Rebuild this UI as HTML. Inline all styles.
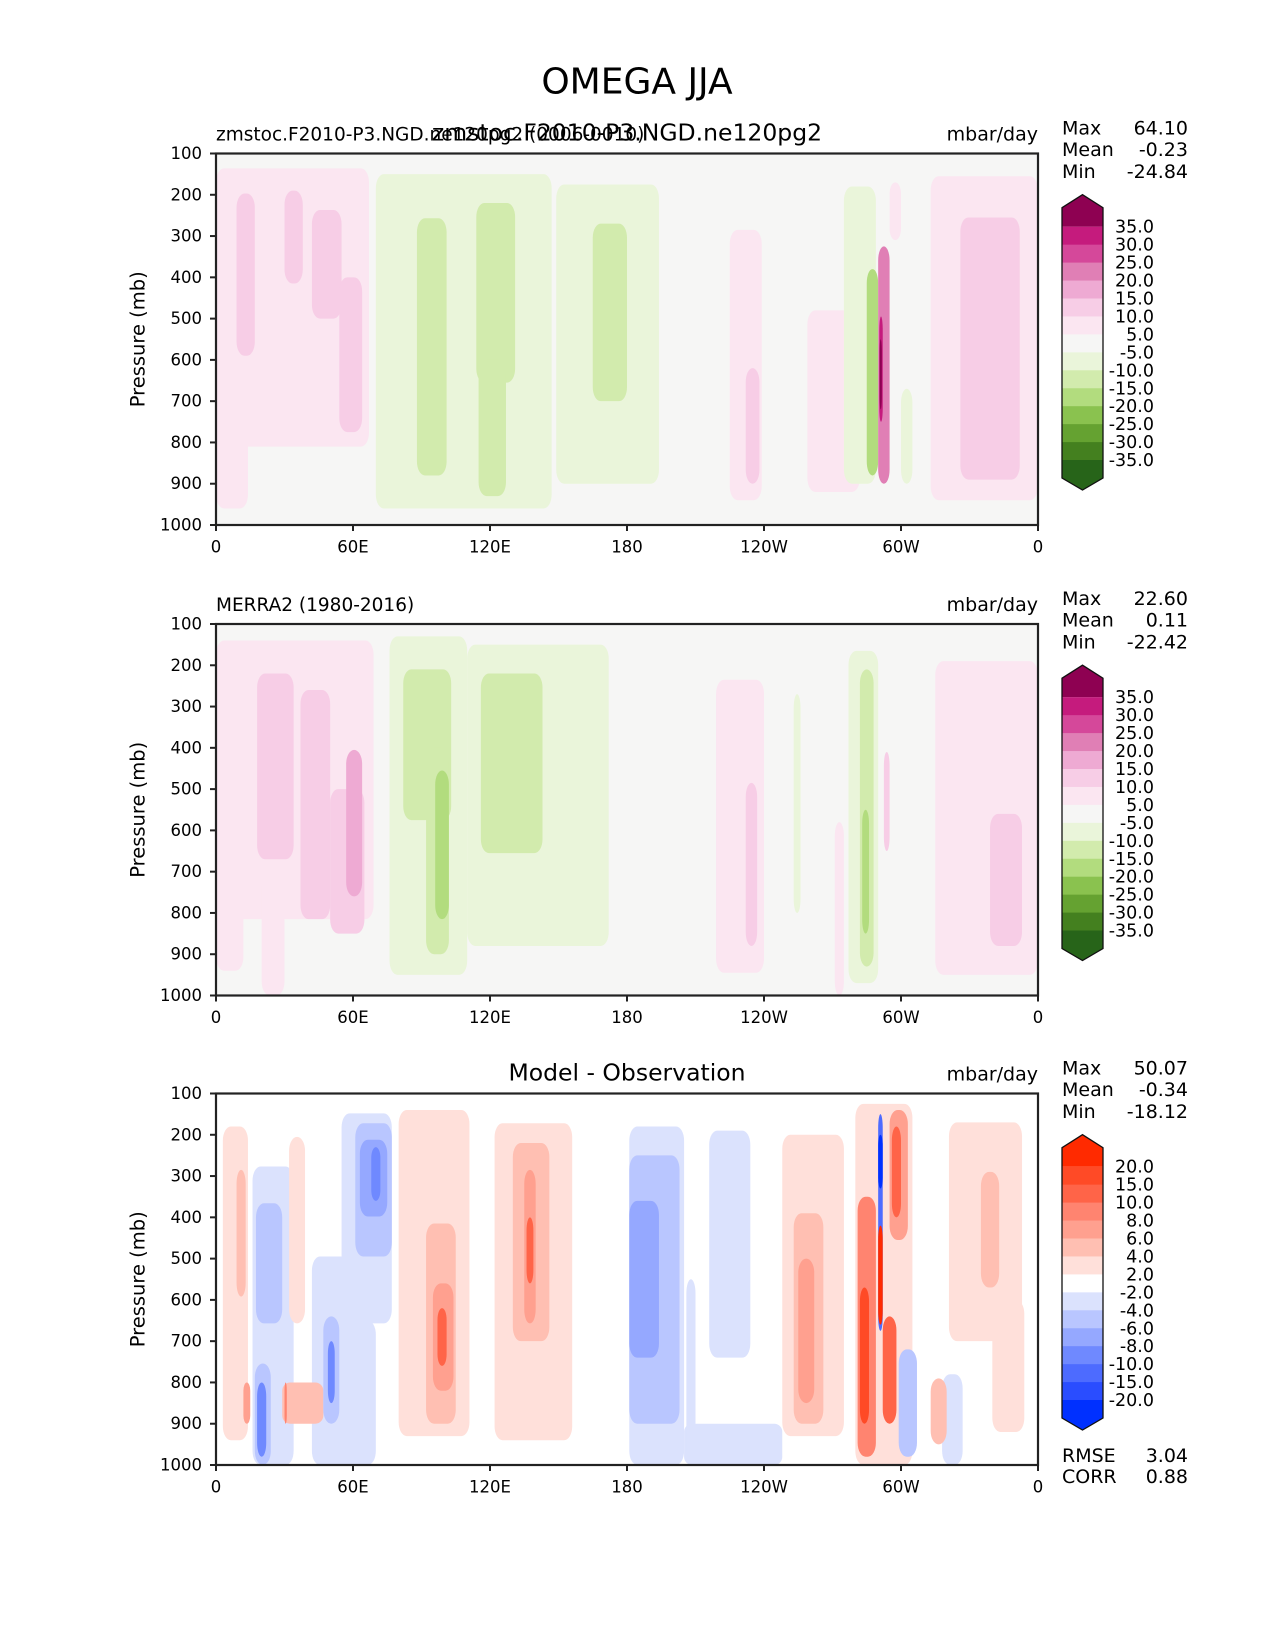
<!DOCTYPE html>
<html><head><meta charset="utf-8"><style>
html,body{margin:0;padding:0;background:#fff;}
svg{display:block;font-family:"DejaVu Sans","Liberation Sans",sans-serif;}
</style></head><body>
<svg id="fig" width="1275" height="1650" viewBox="0 0 1275 1650" xmlns="http://www.w3.org/2000/svg">
<text x="637" y="82" font-size="36" text-anchor="middle" dominant-baseline="central">OMEGA JJA</text>
</svg>
<script>
// ---------- DATA ----------
// Panel 1: model  (blobs: lon range, pressure range, value mbar/day)
const m_lon0 = [0,0,9,30,42,54,70,149,88,114,115,165,225,232,259,275,285,290,290.5,290.6,295,300,313,326];
const m_lon1 = [67,14,17,38,55,64,147,194,101,131,127,180,239,238,282,289,290,295,292,291.6,300,305,360,352];
const m_pTop = [136,600,197,190,237,400,150,175,257,220,600,270,285,620,480,180,380,325,495,550,170,670,155,255];
const m_pBot = [810,960,590,415,500,775,960,900,880,655,930,700,940,900,920,900,880,900,750,720,310,900,940,890];
const m_val  = [7,7,12,12,12,12,-7,-7,-12,-12,-12,-12,7,12,7,-7,-17,22,33,40,7,-7,7,12];

// Panel 2: MERRA2
const o_lon0 = [0,0,20,18,37,50,57,76,110,82,92,116,96,219,232,253,271,277,282,283,292.5,315,339];
const o_lon1 = [69,12,30,34,50,65,64,110,172,103,102,143,102,240,237,256,275,290,288,286,295,360,353];
const o_pTop = [140,600,700,220,260,500,405,130,150,210,400,220,455,235,485,270,580,165,210,550,410,190,560];
const o_pBot = [815,940,1000,670,815,850,760,950,880,575,900,655,815,945,880,800,1000,970,930,850,650,950,880];
const o_val  = [7,7,7,12,12,12,17,-7,-7,-12,-12,-12,-17,7,12,-7,7,-7,-12,-17,15,7,12];

// Panel 3: model - observation
const d_lon0 = [3,9,12,16,17.5,17,18,32,29,30,42,47,49,55,61,63,68,55,80,92,95,97,122,130,135,136,
  181,181,181,205,216,206,248,253,255,280,281,282,295,296,290,290,290,292,299,313,318,321,340,335];
const d_lon1 = [14,13,15,34,29,24,22,39,47,31,61,54,52,77,77,75,72,70,111,105,104,101,156,146,140,139,
  205,203,194,248,234,210,275,266,262,305,289,286,303,300,292,292,292,298,307,320,327,353,354,343];
const d_pTop = [180,285,800,277,366,754,800,205,800,800,495,640,700,148,172,212,230,650,140,415,560,620,172,220,285,400,
  180,250,360,900,190,550,200,390,500,125,350,570,140,180,150,200,420,640,720,790,780,170,600,290];
const d_pBot = [940,592,900,1000,657,1000,980,657,900,900,1000,900,850,657,495,398,360,1000,930,900,820,760,940,700,657,560,
  1000,900,740,1000,740,1000,930,900,850,1000,980,900,455,400,675,330,660,900,980,950,1000,700,920,570];
const d_val  = [3,5,8,-3,-5,-5,-8,3,5,10,-3,-5,-8,-3,-5,-7,-9,-3,3,5,8,12,3,5,8,11,
  -3,-5,-7,-2.5,-3,-3,3,5,6.5,3,10,16,8,11,-11,-22,25,11,-4,5,-3,3,3,5];

// Colorbar levels & labels
const piyg_levels = [35,30,25,20,15,10,5,-5,-10,-15,-20,-25,-30,-35];
const piyg_labels = ["35.0","30.0","25.0","20.0","15.0","10.0","5.0","-5.0","-10.0","-15.0","-20.0","-25.0","-30.0","-35.0"];
const piyg_colors = ["#8e0152","#c51b7d","#d5489a","#e07fb5","#eeaad3","#f7cde6","#fbe6f1","#f6f6f5","#eaf5da","#d2ebad","#b2dc7e","#8ac24f","#65a231","#44801f","#276419"];
const bwr_levels = [20,15,10,8,6,4,2,-2,-4,-6,-8,-10,-15,-20];
const bwr_labels = ["20.0","15.0","10.0","8.0","6.0","4.0","2.0","-2.0","-4.0","-6.0","-8.0","-10.0","-15.0","-20.0"];
const bwr_colors = ["#ff2a00","#ff4a26","#ff6448","#ff8470","#ffa08f","#ffbfb2","#ffe0da","#ffffff","#dbe2fd","#b9c6ff","#95a8ff","#6f89ff","#4d6bff","#2a4dff","#0030ff"];

const xTickVals = [0,60,120,180,240,300,360];
const xTickLabels = ["0","60E","120E","180","120W","60W","0"];
const yTickVals = [100,200,300,400,500,600,700,800,900,1000];

const stats1 = ["64.10","-0.23","-24.84"];
const stats2 = ["22.60","0.11","-22.42"];
const stats3 = ["50.07","-0.34","-18.12"];
const rmse = "3.04", corr = "0.88";

// ---------- DRAWING ----------
const NS = "http://www.w3.org/2000/svg";
const svg = document.getElementById("fig");
const AX0 = 216, AX1 = 1038, AXW = AX1 - AX0, AXH = 371.5;
function mk(tag, attrs, parent){const e=document.createElementNS(NS,tag);for(const k in attrs)e.setAttribute(k,attrs[k]);(parent||svg).appendChild(e);return e;}
function colorFor(v, levels, colors){ // levels descending
  for(let i=0;i<levels.length;i++){ if(v>levels[i]) return colors[i]; }
  return colors[colors.length-1];
}

function panel(top, lon0, lon1, pTop, pBot, vals, levels, colors, bg, subL, subC, stats, name){
  const xS = lon => AX0 + lon/360*AXW;
  const yS = p => top + (p-100)/900*AXH;
  const g = mk("g",{});
  
  
  const bgr = mk("rect",{x:AX0,y:top,width:AXW,height:AXH,fill:bg},g);
  
  
  const idx = vals.map((v,i)=>i).sort((a,b)=>Math.abs(vals[a])-Math.abs(vals[b]));
  for(const i of idx){
    const x=xS(lon0[i]), w=xS(lon1[i])-x, y=yS(pTop[i]), h=yS(pBot[i])-y;
    const r = mk("rect",{x:x,y:y,width:w,height:h,rx:Math.min(w/2,8),ry:Math.min(h/5,14),fill:colorFor(vals[i],levels,colors)},g);
    
    
  }
  const fr = mk("rect",{x:AX0,y:top,width:AXW,height:AXH,fill:"none",stroke:"#222","stroke-width":2.2},g);
  
  
  const bottom = top + AXH;
  xTickVals.forEach((v,i)=>{
    const x=xS(v);
    const t=mk("line",{x1:x,y1:bottom,x2:x,y2:bottom+6,stroke:"#222","stroke-width":2},g);
    
    
    const l=mk("text",{x:x,y:bottom+22,"font-size":16.5,"text-anchor":"middle","dominant-baseline":"central"},g);
    l.textContent=xTickLabels[i];
    
    
  });
  yTickVals.forEach(v=>{
    const y=yS(v);
    const t=mk("line",{x1:AX0-6,y1:y,x2:AX0,y2:y,stroke:"#222","stroke-width":2},g);
    
    
    const l=mk("text",{x:AX0-14,y:y,"font-size":16.5,"text-anchor":"end","dominant-baseline":"central"},g);
    l.textContent=String(v);
    
    
  });
  const yl=mk("text",{x:0,y:0,"font-size":19.5,"text-anchor":"middle","dominant-baseline":"central",transform:`translate(138,${top+AXH/2}) rotate(-90)`},g);
  yl.textContent="Pressure (mb)";
  
  
  if(subL){const t=mk("text",{x:AX0,y:top-13,"font-size":18.5},g);t.textContent=subL;
    
    }
  if(subC){const t=mk("text",{x:(AX0+AX1)/2,y:top-13,"font-size":23.5,"text-anchor":"middle"},g);t.textContent=subC;
    
    }
  const u=mk("text",{x:AX1,y:top-13,"font-size":19,"text-anchor":"end"},g);u.textContent="mbar/day";
  
  
  ["Max","Mean","Min"].forEach((k,i)=>{
    const y=top-25+i*21.7;
    const a=mk("text",{x:1062,y:y,"font-size":19,"dominant-baseline":"central"},g);a.textContent=k;
    
    
    const b=mk("text",{x:1188,y:y,"font-size":19,"text-anchor":"end","dominant-baseline":"central"},g);b.textContent=stats[i];
    
    
  });
  // colorbar
  const cb0 = top + 73.2, step = 17.95, cx0=1062, cx1=1103, cxm=(cx0+cx1)/2;
  const n = levels.length;
  const cg = mk("g",{},g);
  
  
  const topTri = mk("polygon",{points:`${cx0},${cb0-19} ${cxm},${cb0-32} ${cx1},${cb0-19} ${cx1},${cb0} ${cx0},${cb0}`,fill:colors[0]},cg);
  
  
  for(let i=0;i<n-1;i++){
    const r=mk("rect",{x:cx0,y:cb0+i*step,width:cx1-cx0,height:step+0.5,fill:colors[i+1]},cg);
    
    
  }
  const cbE = cb0+(n-1)*step;
  const botTri = mk("polygon",{points:`${cx0},${cbE} ${cx1},${cbE} ${cx1},${cbE+18} ${cxm},${cbE+30} ${cx0},${cbE+18}`,fill:colors[colors.length-1]},cg);
  
  
  const out=mk("polygon",{points:`${cx0},${cb0-19} ${cxm},${cb0-32} ${cx1},${cb0-19} ${cx1},${cbE+18} ${cxm},${cbE+30} ${cx0},${cbE+18}`,fill:"none",stroke:"#111","stroke-width":1.3},cg);
  
  
  const labs = levels===piyg_levels?piyg_labels:bwr_labels;
  for(let i=0;i<n;i++){
    const l=mk("text",{x:1154,y:cb0+i*step+1,"font-size":17.5,"text-anchor":"end","dominant-baseline":"central"},cg);
    l.textContent=labs[i];
    
    
  }
}

panel(153.5, m_lon0,m_lon1,m_pTop,m_pBot,m_val, piyg_levels,piyg_colors,"#f6f6f5",
  "zmstoc.F2010-P3.NGD.ne120pg2 (0006-0010)","zmstoc.F2010-P3.NGD.ne120pg2",stats1,"model");
panel(624, o_lon0,o_lon1,o_pTop,o_pBot,o_val, piyg_levels,piyg_colors,"#f6f6f5",
  "MERRA2 (1980-2016)",null,stats2,"observation");
panel(1093.5, d_lon0,d_lon1,d_pTop,d_pBot,d_val, bwr_levels,bwr_colors,"#ffffff",
  null,"Model - Observation",stats3,"difference");

[["RMSE",rmse,1456],["CORR",corr,1477]].forEach(r=>{
  const a=mk("text",{x:1062,y:r[2],"font-size":19,"dominant-baseline":"central"});a.textContent=r[0];
  
  
  const b=mk("text",{x:1188,y:r[2],"font-size":19,"text-anchor":"end","dominant-baseline":"central"});b.textContent=r[1];
  
  
});
</script>
</body></html>
